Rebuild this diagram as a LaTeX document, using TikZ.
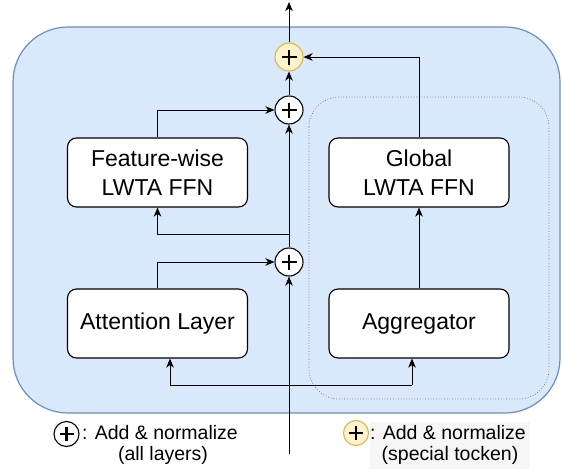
\documentclass[tikz,border=0pt]{standalone}
\usepackage{fontspec}
\setmainfont{Liberation Sans}
\usetikzlibrary{arrows.meta,calc}
\definecolor{bluefill}{HTML}{DAE8FC}
\definecolor{bluedraw}{HTML}{6C8EBF}
\definecolor{yelfill}{HTML}{FFF2CC}
\definecolor{yeldraw}{HTML}{D6B656}
\definecolor{legbg}{HTML}{F6F6F6}
\tikzset{
  layerbox/.style={draw=black, fill=white, line width=1.1pt, rounded corners=9pt,
    minimum width=180pt, minimum height=69pt, inner sep=0pt, align=center,
    font=\fontsize{23}{29}\selectfont},
  addnorm/.style={circle, draw=black, fill=white, line width=1.1pt, minimum size=28pt, inner sep=0pt},
  addspec/.style={addnorm, draw=yeldraw, fill=yelfill},
  legcirc/.style={circle, draw=black, fill=white, line width=1.1pt, minimum size=25pt, inner sep=0pt},
  legspec/.style={legcirc, draw=yeldraw, fill=yelfill},
  conn/.style={line width=1pt, -{Stealth[length=9pt, width=7.5pt, inset=2.5pt]}},
  plain/.style={line width=1pt},
  legtext/.style={font=\fontsize{19.5}{21}\selectfont, inner sep=0pt, anchor=base},
  plussign/.style={line width=2.6pt}
}
\newcommand{\plusin}[2]{\draw[plussign] ($(#1)+(-#2,0)$) -- ($(#1)+(#2,0)$); \draw[plussign] ($(#1)+(0,-#2)$) -- ($(#1)+(0,#2)$);}
\begin{document}
\begin{tikzpicture}[x=1pt, y=1pt]
\useasboundingbox (0,0) rectangle (562,-469);
\fill[white] (0,0) rectangle (562,-469);
% outer block
\draw[fill=bluefill, draw=bluedraw, line width=1.2pt, rounded corners=55pt] (13,-27) rectangle (560,-413);
% dotted group
\draw[draw=black!60, dotted, line width=0.7pt, rounded corners=30pt] (309,-97) rectangle (549,-399);
% boxes
\node[layerbox] (fw) at (157.5,-172.5) {Feature-wise\\LWTA FFN};
\node[layerbox] (gl) at (419,-172.5) {Global\\LWTA FFN};
\node[layerbox] (at) at (157.5,-323.5) {Attention Layer};
\node[layerbox] (ag) at (419,-323.5) {Aggregator};
% add & norm circles
\node[addspec] (y) at (289,-57) {};
\node[addnorm] (p2) at (289,-110) {};
\node[addnorm] (p1) at (289,-262) {};
\plusin{y}{7.5}
\plusin{p2}{7.5}
\plusin{p1}{7.5}
% coordinates
\coordinate (in) at (289,-454);
\coordinate (out) at (289,-2);
\coordinate (br1) at (289,-385);
\coordinate (br2) at (289,-234);
\coordinate (atin) at (170,-385);
\coordinate (agin) at (412,-385);
% connectors
\draw[conn] (in) -- (p1.south);
\draw[plain] (atin) -- (agin);
\draw[conn] (atin) -- (atin |- at.south);
\draw[conn] (agin) -- (agin |- ag.south);
\draw[conn] (at.north) |- (p1.west);
\draw[conn] (p1.north) -- (p2.south);
\draw[conn] (br2) -| (fw.south);
\draw[conn] (fw.north) |- (p2.west);
\draw[conn] (p2.north) -- (y.south);
\draw[conn] (ag.north) -- (gl.south);
\draw[conn] (gl.north) |- (y.east);
\draw[conn] (y.north) -- (out);
% legend
\node[legcirc] (lc1) at (66.5,-434) {};
\plusin{lc1}{7}
\node[legtext] (lt1) at (160,-439) {: Add \& normalize};
\node[legtext] (lt2) at (163,-460) {(all layers)};
\fill[legbg] (370,-422) rectangle (530,-469);
\node[legspec] (lc2) at (356,-433) {};
\plusin{lc2}{7}
\node[legtext] (lt3) at (448,-439) {: Add \& normalize};
\node[legtext] (lt4) at (450,-460) {(special tocken)};
\end{tikzpicture}
\end{document}
